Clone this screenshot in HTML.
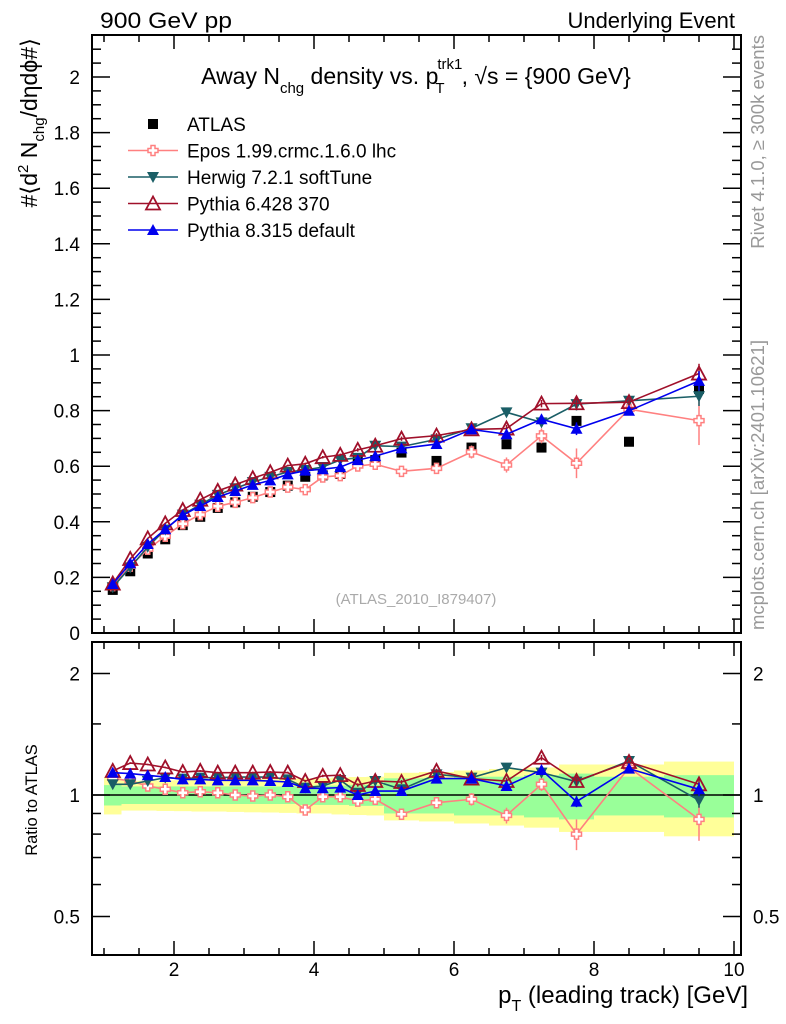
<!DOCTYPE html>
<html><head><meta charset="utf-8"><style>
body{margin:0;background:#fff;}
svg{display:block;font-family:"Liberation Sans",sans-serif;}
</style></head><body>
<svg id="c" width="786" height="1024" viewBox="0 0 786 1024" xmlns="http://www.w3.org/2000/svg">
<text x="100" y="28" font-size="22" textLength="132" lengthAdjust="spacingAndGlyphs">900 GeV pp</text>
<text x="735" y="28" font-size="22" text-anchor="end">Underlying Event</text>
<text x="416" y="84" font-size="23" text-anchor="middle">Away N<tspan font-size="15" dy="9">chg</tspan><tspan dy="-9"> density vs. p</tspan><tspan font-size="15" dx="-1" dy="-15">trk1</tspan><tspan font-size="15" dx="-27" dy="24">T</tspan><tspan dx="17" dy="-9">, √s = {900 GeV}</tspan></text>
<text transform="translate(37,38) rotate(-90)" font-size="23" text-anchor="end">#⟨d<tspan font-size="15" dy="-9">2</tspan><tspan dy="9"> N</tspan><tspan font-size="15" dy="7">chg</tspan><tspan dy="-7">/dηdϕ#⟩</tspan></text>
<text transform="translate(764,35) rotate(-90)" font-size="18.5" fill="#999" text-anchor="end">Rivet 4.1.0, ≥ 300k events</text>
<text transform="translate(764,630) rotate(-90)" font-size="18.5" fill="#999" text-anchor="start">mcplots.cern.ch [arXiv:2401.10621]</text>
<text x="416" y="604" font-size="15" fill="#aaa" text-anchor="middle">(ATLAS_2010_I879407)</text>
<text transform="translate(37,800) rotate(-90)" font-size="16.5" text-anchor="middle">Ratio to ATLAS</text>
<text x="748" y="1003" font-size="24" text-anchor="end">p<tspan font-size="16" dy="8">T</tspan><tspan dy="-8"> (leading track) [GeV]</tspan></text>
<g id="g"></g>
</svg>
<script>
const xCenters=[1.125,1.375,1.625,1.875,2.125,2.375,2.625,2.875,3.125,3.375,3.625,3.875,4.125,4.375,4.625,4.875,5.25,5.75,6.25,6.75,7.25,7.75,8.5,9.5];
const xEdges=[1,1.25,1.5,1.75,2,2.25,2.5,2.75,3,3.25,3.5,3.75,4,4.25,4.5,4.75,5,5.5,6,6.5,7,7.5,8,9,10];
const atlas=[0.155,0.222,0.286,0.337,0.388,0.418,0.45,0.47,0.49,0.507,0.53,0.562,0.567,0.572,0.622,0.622,0.649,0.619,0.667,0.679,0.667,0.763,0.688,0.878];
const statErr=[0.058,0.05,0.05,0.05,0.05,0.05,0.05,0.05,0.05,0.05,0.05,0.055,0.055,0.055,0.06,0.06,0.1,0.1,0.11,0.11,0.12,0.13,0.11,0.12];
const totErr=[0.105,0.085,0.085,0.087,0.088,0.09,0.09,0.092,0.094,0.095,0.097,0.1,0.1,0.105,0.108,0.11,0.135,0.14,0.15,0.16,0.17,0.19,0.19,0.21];
const eposR=[1.1,1.083,1.053,1.033,1.013,1.019,1.013,1.0,0.994,1.0,0.99,0.918,0.99,0.99,0.966,0.976,0.896,0.957,0.976,0.89,1.063,0.8,1.17,0.87];
const eposErr=[0.01,0.01,0.01,0.01,0.01,0.01,0.01,0.01,0.01,0.01,0.01,0.015,0.015,0.015,0.02,0.02,0.02,0.03,0.035,0.04,0.04,0.07,0.03,0.1];
const herwigR=[1.063,1.063,1.083,1.104,1.098,1.104,1.104,1.108,1.108,1.108,1.093,1.043,1.053,1.089,1.013,1.083,1.033,1.125,1.104,1.169,1.136,1.079,1.214,0.97];
const herwigErr=[0.005,0.005,0.005,0.005,0.005,0.005,0.005,0.005,0.006,0.006,0.006,0.007,0.008,0.008,0.01,0.01,0.012,0.015,0.015,0.02,0.02,0.03,0.02,0.04];
const py6R=[1.147,1.2,1.19,1.17,1.14,1.147,1.136,1.136,1.136,1.14,1.136,1.083,1.115,1.12,1.059,1.083,1.077,1.147,1.098,1.083,1.237,1.083,1.207,1.063];
const py6Err=[0.005,0.005,0.005,0.005,0.005,0.005,0.005,0.005,0.006,0.006,0.006,0.007,0.008,0.008,0.01,0.01,0.012,0.015,0.015,0.02,0.02,0.03,0.02,0.04];
const py8R=[1.136,1.13,1.119,1.108,1.093,1.093,1.087,1.087,1.087,1.083,1.077,1.039,1.039,1.043,1.0,1.023,1.023,1.098,1.098,1.053,1.153,0.963,1.162,1.033];
const py8Err=[0.005,0.005,0.005,0.005,0.005,0.005,0.005,0.005,0.006,0.006,0.006,0.007,0.008,0.008,0.01,0.01,0.012,0.015,0.015,0.02,0.02,0.03,0.02,0.04];
const xTicks=[2,4,6,8,10];
const yTicks=[0,0.2,0.4,0.6,0.8,1,1.2,1.4,1.6,1.8,2];
const rTicks=[0.5,1,2];

const NS='http://www.w3.org/2000/svg';
const g=document.getElementById('g');
const L=92,R=741,T1=35,B1=633,T2=642,B2=955;
const X=v=>34+70*v;
const Y=v=>633-278*v;
const YR=r=>795-121.5*Math.log2(r);
function el(tag,a,parent){const e=document.createElementNS(NS,tag);for(const k in a)e.setAttribute(k,a[k]);(parent||g).appendChild(e);return e;}

for(let i=0;i<xCenters.length;i++){
  const x0=X(xEdges[i]),x1=X(xEdges[i+1]);
  const y=el('rect',{x:x0,y:YR(1+totErr[i]),width:x1-x0,height:YR(1-totErr[i])-YR(1+totErr[i]),fill:'#ffff99'});
  
  
  const gr=el('rect',{x:x0,y:YR(1+statErr[i]),width:x1-x0,height:YR(1-statErr[i])-YR(1+statErr[i]),fill:'#99ff99'});
  
  
}
el('line',{x1:L,x2:R,y1:YR(1),y2:YR(1),stroke:'#000','stroke-width':1.5});

for(const [t,b,n] of [[T1,B1,'main-frame'],[T2,B2,'ratio-frame']]){
  const f=el('rect',{x:L,y:t,width:R-L,height:b-t,fill:'none',stroke:'#000','stroke-width':2});
  
  
  for(let v=1;v<=10;v+=0.5){
    const len=(v%2===0)?14:7;const x=X(v);
    el('line',{x1:x,x2:x,y1:b,y2:b-len,stroke:'#000','stroke-width':1.5});
    el('line',{x1:x,x2:x,y1:t,y2:t+len,stroke:'#000','stroke-width':1.5});
  }
}
xTicks.forEach(v=>{const t=el('text',{x:X(v),y:976,'font-size':19,'text-anchor':'middle'});t.textContent=v;
  
  });
for(let v=0;v<=2.15;v+=0.05){
  const major=Math.abs(v*5-Math.round(v*5))<1e-6;const len=major?18:9;const y=Y(v);
  if(y<T1)continue;
  el('line',{x1:L,x2:L+len,y1:y,y2:y,stroke:'#000','stroke-width':1.5});
  el('line',{x1:R,x2:R-len,y1:y,y2:y,stroke:'#000','stroke-width':1.5});
}
yTicks.forEach(v=>{const t=el('text',{x:80,y:Y(v)+7,'font-size':19,'text-anchor':'end'});t.textContent=String(v);
  
  });
[0.4,0.5,0.6,0.7,0.8,0.9,1,1.5,2].forEach(v=>{
  const major=rTicks.includes(v);const len=major?18:9;const y=YR(v);
  if(y>B2||y<T2)return;
  el('line',{x1:L,x2:L+len,y1:y,y2:y,stroke:'#000','stroke-width':1.5});
  el('line',{x1:R,x2:R-len,y1:y,y2:y,stroke:'#000','stroke-width':1.5});
});
rTicks.forEach(v=>{
  const t=el('text',{x:80,y:YR(v)+7,'font-size':19,'text-anchor':'end'});t.textContent=String(v);
  
  
  const t2=el('text',{x:753,y:YR(v)+7,'font-size':19,'text-anchor':'start'});t2.textContent=String(v);
  
  
});

function marker(type,x,y,color,name){
  let m;
  if(type==='sq')m=el('rect',{x:x-5,y:y-5,width:10,height:10,fill:'#000'});
  else if(type==='cross')m=el('path',{d:`M${x-2},${y-5}h4v3h3v4h-3v3h-4v-3h-3v-4h3z`,fill:'#fff',stroke:color,'stroke-width':1.5});
  else if(type==='down')m=el('path',{d:`M${x-6},${y-5}L${x+6},${y-5}L${x},${y+6}Z`,fill:color});
  else if(type==='upo')m=el('path',{d:`M${x-7},${y+6}L${x+7},${y+6}L${x},${y-7}Z`,fill:'none',stroke:color,'stroke-width':1.8});
  else m=el('path',{d:`M${x-6},${y+5}L${x+6},${y+5}L${x},${y-6}Z`,fill:color});
  
  
}
const series=[
  {r:eposR,e:eposErr,c:'#ff8080',t:'cross',n:'epos'},
  {r:herwigR,e:herwigErr,c:'#1a5e66',t:'down',n:'herwig'},
  {r:py6R,e:py6Err,c:'#a0102a',t:'upo',n:'pythia6'},
  {r:py8R,e:py8Err,c:'#0000ee',t:'up',n:'pythia8'}
];
atlas.forEach((v,i)=>marker('sq',X(xCenters[i]),Y(v),'#000','atlas-point'));
series.forEach(s=>{
  const ptsM=xCenters.map((x,i)=>X(x)+','+Y(s.r[i]*atlas[i])).join(' ');
  const ptsR=xCenters.map((x,i)=>X(x)+','+YR(s.r[i])).join(' ');
  const l1=el('polyline',{points:ptsM,fill:'none',stroke:s.c,'stroke-width':1.6});
  
  
  const l2=el('polyline',{points:ptsR,fill:'none',stroke:s.c,'stroke-width':1.6});
  
  
  xCenters.forEach((xc,i)=>{
    const x=X(xc),v=s.r[i]*atlas[i],e=s.e[i]*atlas[i];
    el('line',{x1:x,x2:x,y1:Y(v-e),y2:Y(v+e),stroke:s.c,'stroke-width':1.5});
    el('line',{x1:x,x2:x,y1:YR((v-e)/atlas[i]),y2:YR((v+e)/atlas[i]),stroke:s.c,'stroke-width':1.5});
    marker(s.t,x,Y(v),s.c,s.n+'-point');
    marker(s.t,x,YR(s.r[i]),s.c,s.n+'-ratio-point');
  });
});
const leg=[['ATLAS','sq','#000','legend-atlas'],['Epos 1.99.crmc.1.6.0 lhc','cross','#ff8080','legend-epos'],['Herwig 7.2.1 softTune','down','#1a5e66','legend-herwig'],['Pythia 6.428 370','upo','#a0102a','legend-pythia6'],['Pythia 8.315 default','up','#0000ee','legend-pythia8']];
leg.forEach((l,i)=>{
  const y=124+i*26.5;
  if(i>0)el('line',{x1:128,x2:178,y1:y,y2:y,stroke:l[2],'stroke-width':1.6});
  marker(l[1],153,y,l[2],l[3]+'-marker');
  const t=el('text',{x:187,y:y+7,'font-size':19});t.textContent=l[0];
  
  
});
</script>
</body></html>
